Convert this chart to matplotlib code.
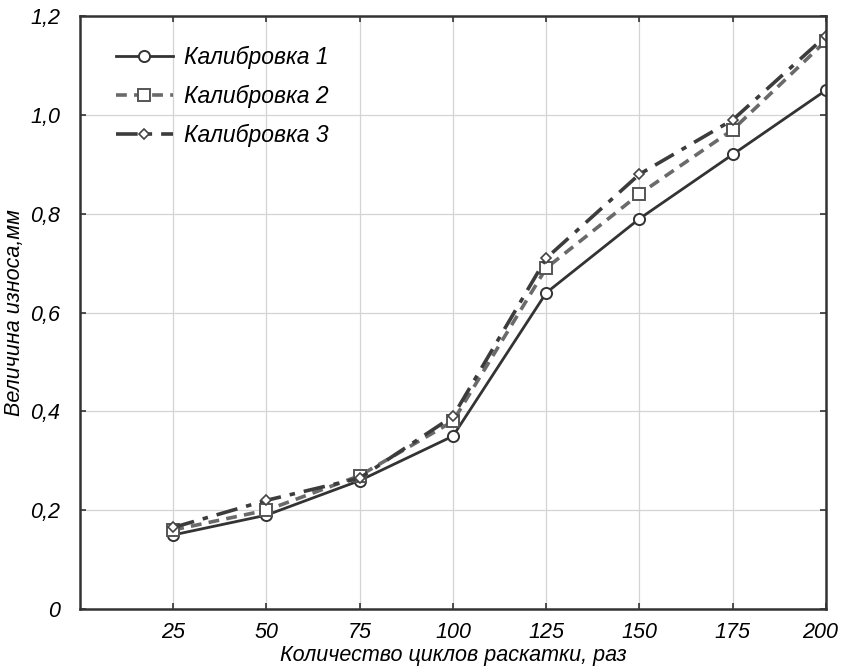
import matplotlib
matplotlib.use("Agg")
import matplotlib.pyplot as plt
import matplotlib.transforms as mtransforms
from matplotlib.ticker import FuncFormatter

# Данные
cycles = [25, 50, 75, 100, 125, 150, 175, 200]
kal1 = [0.15, 0.19, 0.26, 0.35, 0.64, 0.79, 0.92, 1.05]
kal2 = [0.16, 0.20, 0.27, 0.38, 0.69, 0.84, 0.97, 1.15]
kal3 = [0.165, 0.22, 0.265, 0.39, 0.71, 0.88, 0.99, 1.16]
labels = ["Калибровка 1", "Калибровка 2", "Калибровка 3"]

plt.rcParams.update({
    "font.family": ["Liberation Sans", "DejaVu Sans"],
    "font.style": "italic",
    "font.size": 13,
})

fig = plt.figure(figsize=(8.42, 6.7), dpi=100)
ax = fig.add_axes([0.095, 0.091, 0.886, 0.885])

ax.plot(cycles, kal1, "-", color="#333333", lw=2.0, marker="o", ms=8,
        mfc="white", mec="#333333", mew=1.4, label=labels[0])
ax.plot(cycles, kal2, "--", color="#6a6a6a", lw=2.6, dashes=(3, 2), marker="s", ms=8,
        mfc="white", mec="#555555", mew=1.4, label=labels[1])
ax.plot(cycles, kal3, "-.", color="#3c3c3c", lw=2.6, dashes=(6, 2.5, 1.5, 2.5), marker="D", ms=5.5,
        mfc="white", mec="#444444", mew=1.2, label=labels[2])

ax.set_xlim(0, 200)
ax.set_ylim(0, 1.2)
ax.set_xticks(cycles)
ax.set_yticks([0, 0.2, 0.4, 0.6, 0.8, 1.0, 1.2])
ax.yaxis.set_major_formatter(FuncFormatter(
    lambda v, p: "0" if v == 0 else f"{v:.1f}".replace(".", ",")))
ax.tick_params(direction="in", top=True, right=True, length=4, width=1.2,
               labelsize=15.5, color="#333333")
ax.tick_params(axis="y", pad=14)
ax.tick_params(axis="x", pad=9)
ax.grid(color="#d4d4d4", lw=0.9)
for s in ax.spines.values():
    s.set_linewidth(1.8)
    s.set_color("#333333")

# последняя подпись "200" чуть левее, чтобы не обрезалась краем
last = ax.get_xticklabels()[-1]
last.set_transform(last.get_transform() +
                   mtransforms.ScaledTranslation(-6 / 100, 0, fig.dpi_scale_trans))

ax.set_xlabel("Количество циклов раскатки, раз", fontsize=15.5, labelpad=2)
ax.set_ylabel("Величина износа,мм", fontsize=15.5, labelpad=4)

leg = ax.legend(loc="upper left", frameon=False, fontsize=16.5, handlelength=2.5,
                handletextpad=0.5, labelspacing=0.7, borderaxespad=0.5,
                bbox_to_anchor=(0.02, 0.985))

fig.savefig("out.png")
